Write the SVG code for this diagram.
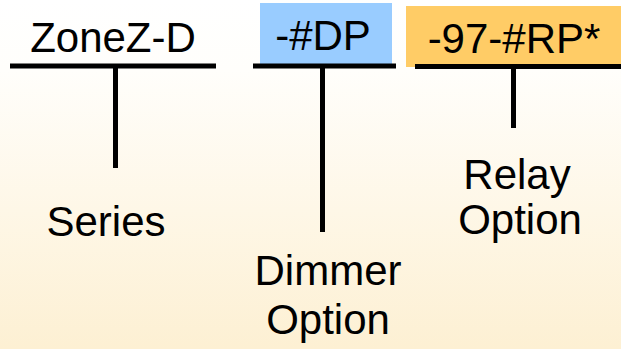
<svg xmlns="http://www.w3.org/2000/svg" width="621" height="349" viewBox="0 0 621 349">
<defs>
<linearGradient id="bg" x1="0" y1="0" x2="0" y2="1">
<stop offset="0" stop-color="#ffffff"/>
<stop offset="0.2" stop-color="#fffefb"/>
<stop offset="1" stop-color="#fdf0d3"/>
</linearGradient>
</defs>
<style>
.t{font-family:"Liberation Sans",Arial,sans-serif;font-size:42px;fill:#000;text-anchor:middle}
.ln{stroke:#000;stroke-width:5;fill:none}
</style>
<rect x="0" y="0" width="621" height="349" fill="url(#bg)"/>
<g id="series">
<text class="t" x="113" y="52">ZoneZ-D</text>
<text class="t" x="106" y="236">Series</text>
</g>
<g id="dimmer">
<rect x="260" y="3" width="132" height="61" fill="#99ccff"/>
<text class="t" x="323" y="50">-#DP</text>
<text class="t" x="328" y="285">Dimmer</text>
<text class="t" x="328" y="334">Option</text>
</g>
<g id="relay">
<rect x="406" y="6" width="215" height="61" fill="#ffcc66"/>
<text class="t" x="514" y="53">-97-#RP*</text>
<text class="t" x="517" y="189">Relay</text>
<text class="t" x="520" y="234">Option</text>
</g>
<g id="connectors">
<line class="ln" x1="10" y1="66" x2="216" y2="66"/>
<line class="ln" x1="115.5" y1="66" x2="115.5" y2="168"/>
<line class="ln" x1="253" y1="66" x2="396" y2="66"/>
<line class="ln" x1="322.5" y1="66" x2="322.5" y2="232"/>
<line class="ln" x1="415" y1="66.5" x2="621" y2="66.5"/>
<line class="ln" x1="513.5" y1="66" x2="513.5" y2="128"/>
</g>
</svg>
